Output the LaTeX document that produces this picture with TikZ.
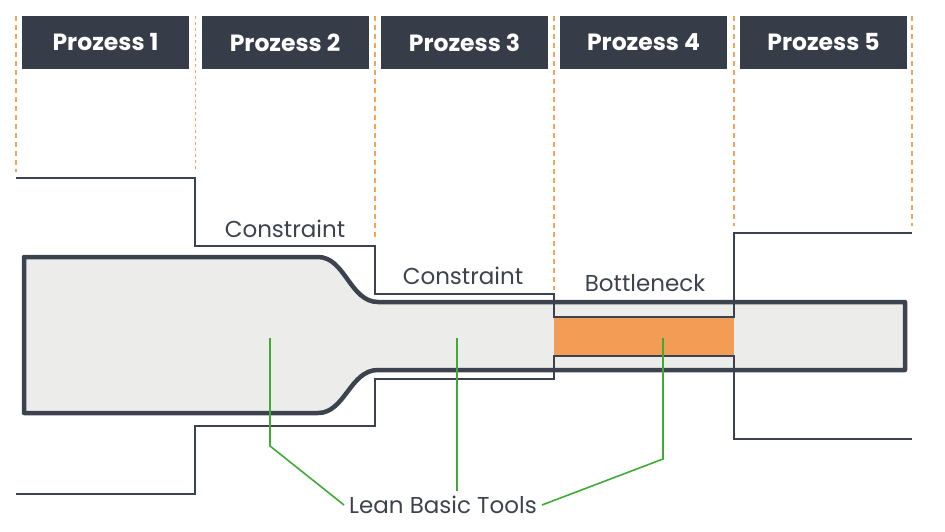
\documentclass[tikz,border=0pt]{standalone}
\usepackage{fontspec}
\setmainfont{Poppins}
\definecolor{slate}{HTML}{363C48}
\definecolor{ink}{HTML}{3D434E}
\definecolor{bneck}{HTML}{F39C55}
\definecolor{dashor}{HTML}{F5A35C}
\definecolor{leangreen}{HTML}{3FAA34}
\definecolor{pipe}{HTML}{ECECEA}
\tikzset{
  header/.style={fill=slate,text=white,font=\bfseries\fontsize{23.5}{26}\selectfont,minimum width=167pt,minimum height=53pt,inner sep=0pt},
  lbl/.style={text=ink,font=\fontsize{23}{26}\selectfont,inner sep=2pt},
  sep/.style={dashor,line width=1.5pt,dash pattern=on 5pt off 4pt},
  level/.style={ink,line width=1.5pt},
  leader/.style={leangreen,line width=1.6pt}
}
\begin{document}
\begin{tikzpicture}[x=1pt,y=-1pt]
\useasboundingbox (0,0) rectangle (945,532);
\foreach \i/\x in {1/105.5,2/285,3/464.5,4/643.5,5/823.5}\node[header] (p\i) at (\x,42.5) {Prozess \i};
\foreach \x/\y in {16/172,375/240,554/290,734/226,912/226}\draw[sep] (\x,16) -- (\x,\y);
\draw[dashor,line width=0.6pt,dash pattern=on 3pt off 3pt] (195,16) -- (195,172);
\draw[ink,line width=4.5pt,fill=pipe,line join=round] (24,257) -- (318,257) .. controls (345,257) and (350,302) .. (378,302) -- (905,302) -- (905,370) -- (378,370) .. controls (350,370) and (345,413) .. (318,413) -- (24,413) -- cycle;
\fill[bneck] (554,317) rectangle (734,356);
\draw[level] (16,178) -- (195,178) -- (195,246) -- (375,246) -- (375,294) -- (554,294) -- (554,317) -- (734,317) -- (734,233) -- (912,233);
\draw[level] (16,494) -- (195,494) -- (195,426) -- (375,426) -- (375,379) -- (554,379) -- (554,356) -- (734,356) -- (734,439) -- (912,439);
\node[lbl] (c1) at (285,229) {Constraint};
\node[lbl] (c2) at (463,276) {Constraint};
\node[lbl] (bn) at (645,283) {Bottleneck};
\node[lbl,inner sep=5pt] (lbt) at (443,505) {Lean Basic Tools};
\coordinate (g1) at (270,338);
\coordinate (g2) at (457,338);
\coordinate (g3) at (663,338);
\draw[leader] (g1) -- ++(0,108) -- (lbt.west);
\draw[leader] (g2) -- (g2 |- lbt.north);
\draw[leader] (g3) -- ++(0,121) -- (lbt.east);
\end{tikzpicture}
\end{document}
